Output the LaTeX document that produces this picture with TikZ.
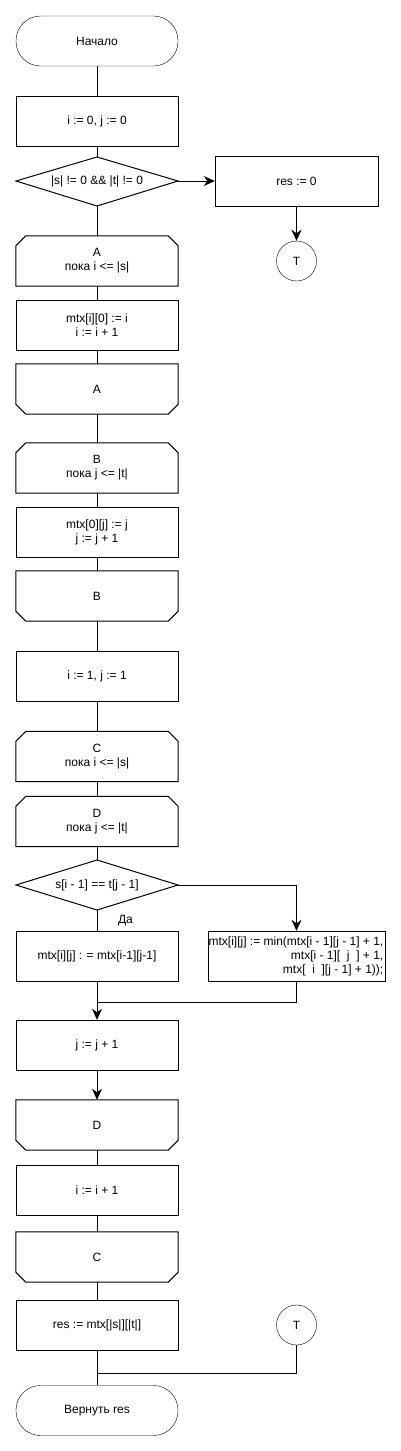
\documentclass[tikz,border=0pt]{standalone}
\usepackage{fontspec}
\setmainfont{Liberation Sans}
\usetikzlibrary{arrows.meta,calc}
\tikzset{
  base/.style={minimum width=162pt,minimum height=50pt,inner sep=0pt,align=center,font=\fontsize{12}{14}\selectfont},
  term/.style={base,draw,rounded corners=24.5pt},
  proc/.style={base,draw},
  loopbox/.style={base},
  conn/.style={circle,draw,minimum size=40pt,inner sep=0pt,font=\fontsize{12}{14}\selectfont},
  line/.style={line width=1pt},
  arr/.style={line width=1pt,-{Stealth[length=11pt,width=10pt,inset=3.5pt]}},
}
\newcommand{\myLoopTop}[1]{\draw[line] ([yshift=-10pt]#1.north west) -- ([xshift=10pt]#1.north west) -- ([xshift=-10pt]#1.north east) -- ([yshift=-10pt]#1.north east) -- (#1.south east) -- (#1.south west) -- cycle;}
\newcommand{\myLoopBot}[1]{\draw[line] (#1.north west) -- (#1.north east) -- ([yshift=10pt]#1.south east) -- ([xshift=-10pt]#1.south east) -- ([xshift=10pt]#1.south west) -- ([yshift=10pt]#1.south west) -- cycle;}
\begin{document}
\begin{tikzpicture}[x=1pt,y=-1pt]
\useasboundingbox (0,0) rectangle (401,1451);
\fill[white] (0,0) rectangle (401,1451);
\node[term] (start) at (97,41) {Начало};
\node[proc] (p1) at (97,121) {i := 0, j := 0};
\draw[line] (16,181) -- (97,157) -- (178,181) -- (97,206) -- cycle;
\node[base,minimum height=49pt] (d1) at (97,181) {|s| != 0 \&\& |t| != 0};
\node[proc,minimum width=163pt] (r0) at (296.5,181) {res := 0};
\node[conn] (T1) at (296.5,261) {T};
\node[loopbox] (A1) at (97,261) {A\\пока i <= |s|};
\myLoopTop{A1}
\node[proc] (pA) at (97,325) {mtx[i][0] := i\\i := i + 1};
\node[loopbox] (A2) at (97,389) {A};
\myLoopBot{A2}
\node[loopbox] (B1) at (97,468) {B\\пока j <= |t|};
\myLoopTop{B1}
\node[proc] (pB) at (97,532) {mtx[0][j] := j\\j := j + 1};
\node[loopbox] (B2) at (97,596) {B};
\myLoopBot{B2}
\node[proc] (p2) at (97,676) {i := 1, j := 1};
\node[loopbox] (C1) at (97,756.5) {C\\пока i <= |s|};
\myLoopTop{C1}
\node[loopbox] (D1) at (97,821.5) {D\\пока j <= |t|};
\myLoopTop{D1}
\draw[line] (16,885) -- (97,860) -- (178,885) -- (97,910) -- cycle;
\node[base] (d2) at (97,885) {s[i - 1] == t[j - 1]};
\node[inner sep=0pt,font=\fontsize{12}{14}\selectfont] (da) at (125.5,921) {Да};
\node[proc] (pL) at (97,956) {mtx[i][j] : = mtx[i-1][j-1]};
\node[proc,minimum width=177pt] (pR) at (296.5,956) {};
\node[inner sep=0pt,align=right,font=\fontsize{12}{14}\selectfont,anchor=east] (pRt) at (383.5,956) {mtx[i][j] := min(mtx[i - 1][j - 1] + 1,\\mtx[i - 1][\ \ j\ \ ] + 1,\ \ \\mtx[\ \ i\ \ ][j - 1] + 1));};
\coordinate (m1) at (97,1002);
\node[proc] (pj) at (97,1045) {j := j + 1};
\node[loopbox] (D2) at (97,1125) {D};
\myLoopBot{D2}
\node[proc] (pi) at (97,1190) {i := i + 1};
\node[loopbox] (C2) at (97,1257) {C};
\myLoopBot{C2}
\node[proc] (pres) at (97,1325) {res := mtx[|s|][|t|]};
\node[conn] (T2) at (296.5,1325) {T};
\coordinate (m2) at (97,1373);
\node[term] (end) at (97,1410.5) {Вернуть res};
% connectors
\draw[line] (start) -- (p1);
\draw[line] (p1) -- (97,157);
\draw[arr] (178,181) -- (r0.west);
\draw[arr] (r0.south) -- (T1.north);
\draw[line] (97,206) -- (A1.north);
\draw[line] (A1) -- (pA);
\draw[line] (pA) -- (A2);
\draw[line] (A2) -- (B1);
\draw[line] (B1) -- (pB);
\draw[line] (pB) -- (B2);
\draw[line] (B2) -- (p2);
\draw[line] (p2) -- (C1);
\draw[line] (C1) -- (D1);
\draw[line] (D1.south) -- (97,860);
\draw[line] (97,910) -- (pL.north);
\draw[arr] (178,885) -| (pR.north);
\draw[line] (pR.south) |- (m1);
\draw[arr] (pL) -- (pj);
\draw[arr] (pj) -- (D2);
\draw[line] (D2) -- (pi);
\draw[line] (pi) -- (C2);
\draw[line] (C2) -- (pres);
\draw[line] (pres) -- (end);
\draw[line] (T2.south) |- (m2);
\end{tikzpicture}
\end{document}
